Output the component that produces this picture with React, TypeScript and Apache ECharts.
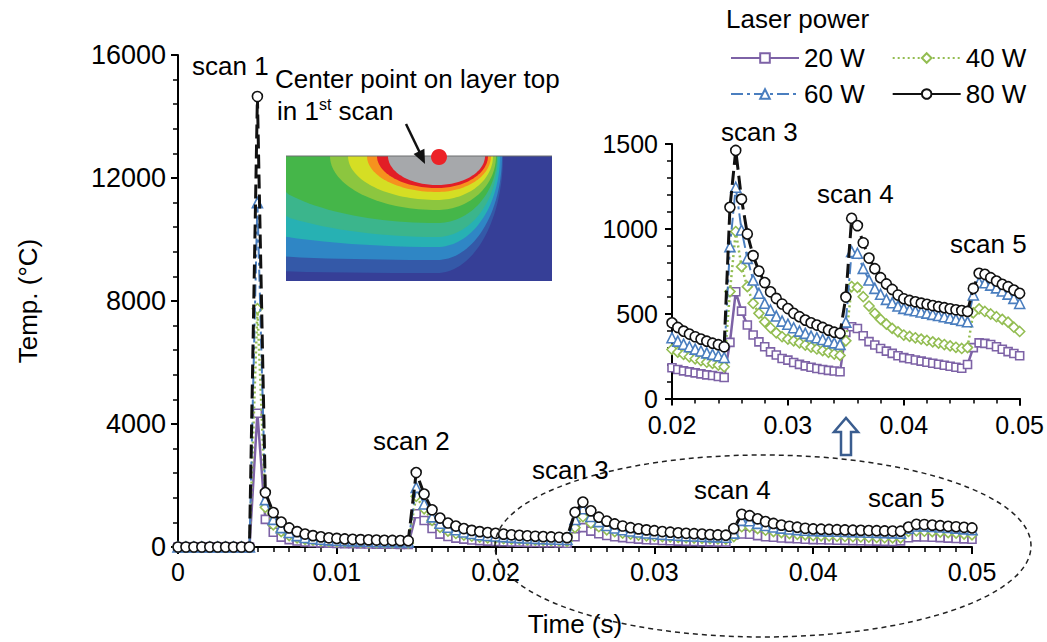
import React, { useEffect, useRef } from 'react';
import * as echarts from 'echarts';

// ---------------- DATA ----------------
const TIME_STEP = 0.0005; // s, sampling interval of the simulation output
const N_POINTS = 101; // 0 .. 0.05 s
const times: number[] = Array.from({ length: N_POINTS }, (_, i) => Number((i * TIME_STEP).toFixed(4)));

const power20W: number[] = [
  0, 0, 0, 0, 0, 0, 0, 0, 0, 0,
  4350,
  900, 480, 320, 240, 195, 165, 148, 135, 125, 117, 110, 105, 101, 97, 94, 91, 89, 86, 84,
  1080, 860, 600, 420, 340, 290, 255, 228, 208, 192,
  181, 171, 163, 157, 151, 145, 139, 136, 130, 124,
  331, 629, 515, 433, 374, 334, 305, 275, 256, 236,
  226, 212, 201, 192, 184, 177, 171, 166, 162, 158,
  390, 423, 413, 370, 335, 315, 295, 279, 266, 252,
  241, 234, 227, 220, 214, 208, 202, 196, 190, 184, 178,
  200,
  300, 328, 325, 318, 305, 290, 276, 265, 252,
];

const power40W: number[] = [
  0, 0, 0, 0, 0, 0, 0, 0, 0, 0,
  7750,
  1290, 720, 500, 370, 295, 250, 222, 200, 185, 175, 166, 159, 153, 148, 144, 140, 136, 133, 130,
  1650, 1240, 870, 640, 520, 440, 390, 350, 320, 300,
  289, 273, 260, 246, 234, 224, 214, 207, 197, 187,
  630, 984, 777, 659, 561, 502, 452, 417, 387, 364,
  350, 340, 328, 315, 303, 292, 282, 272, 262, 254,
  340, 660, 655, 600, 545, 502, 466, 438, 413, 393,
  374, 366, 358, 350, 342, 334, 326, 318, 310, 302, 295,
  300,
  505, 528, 513, 498, 482, 466, 450, 420, 395,
];

const power60W: number[] = [
  0, 0, 0, 0, 0, 0, 0, 0, 0, 0,
  11200,
  1540, 900, 630, 470, 370, 310, 275, 250, 232, 218, 207, 198, 191, 185, 180, 175, 170, 166, 163,
  1940, 1400, 980, 770, 640, 560, 490, 440, 400, 375,
  358, 338, 320, 305, 291, 280, 269, 260, 252, 242,
  895, 1245, 993, 826, 698, 620, 561, 521, 486, 456,
  438, 417, 397, 384, 368, 358, 348, 338, 328, 319,
  450, 866, 856, 767, 698, 649, 614, 584, 564, 545,
  531, 524, 517, 510, 503, 496, 489, 482, 475, 468, 460,
  452,
  610, 685, 682, 668, 652, 634, 615, 590, 560,
];

const power80W: number[] = [
  0, 0, 0, 0, 0, 0, 0, 0, 0, 0,
  14650,
  1770, 1120, 810, 620, 500, 420, 370, 330, 300, 280, 262, 250, 240, 232, 225, 219, 213, 208, 204,
  2420, 1720, 1210, 940, 780, 680, 600, 540, 500, 470,
  446, 419, 397, 380, 364, 350, 338, 326, 317, 305,
  1127, 1462, 1175, 970, 842, 751, 683, 629, 590, 557,
  530, 502, 482, 462, 446, 433, 419, 403, 391, 384,
  598, 1062, 1019, 918, 828, 765, 712, 675, 643, 610,
  588, 578, 570, 562, 555, 548, 541, 535, 529, 523, 518,
  513,
  649, 738, 732, 712, 692, 673, 659, 639, 620,
];

const seriesNames = ['20 W', '40 W', '60 W', '80 W'];
const seriesValues = [power20W, power40W, power60W, power80W];

const mainXTicks = [0, 0.01, 0.02, 0.03, 0.04, 0.05];
const mainYTicks = [0, 4000, 8000, 12000, 16000];
const insetXTicks = [0.02, 0.03, 0.04, 0.05];
const insetYTicks = [0, 500, 1000, 1500];

const scanLabels = ['scan 1', 'scan 2', 'scan 3', 'scan 4', 'scan 5'];

// ---------------- STYLE ----------------
const FONT = '"Liberation Sans", Arial, sans-serif';
const seriesStyle: Record<string, any> = {
  '20 W': { color: '#7d62a6', symbol: 'rect', size: 8, type: 'solid', width: 2.5 },
  '40 W': { color: '#93bd52', symbol: 'diamond', size: 10, type: [2, 3], width: 2.5 },
  '60 W': { color: '#4a7ebf', symbol: 'triangle', size: 10, type: [12, 4, 3, 4], width: 2 },
  '80 W': { color: '#111111', symbol: 'circle', size: 10, type: [14, 6], width: 3 },
};

function makeSeries(idx: number, grid: number) {
  const name = seriesNames[idx];
  const st = seriesStyle[name];
  const vals = seriesValues[idx];
  const minT = grid === 0 ? 0 : insetXTicks[0];
  const data = times
    .map((t, i) => [t, vals[i]])
    .filter((d) => d[0] >= minT - 1e-9);
  return {
    type: 'line',
    name,
    xAxisIndex: grid,
    yAxisIndex: grid,
    data,
    symbol: st.symbol,
    symbolSize: st.size,
    showAllSymbol: true,
    silent: true,
    z: 2 + idx,
    lineStyle: { color: st.color, width: st.width, type: st.type },
    itemStyle: { color: '#ffffff', borderColor: st.color, borderWidth: 1.6 },
  };
}

const fmtX = (v: number) => (v === 0 ? '0' : String(Number(v.toFixed(4))));
const fmtY = (v: number) => String(Math.round(v));

function axisCommon(margin: number, split: number, formatter: any, fontSize = 25) {
  return {
    axisLine: { show: true, onZero: false, lineStyle: { color: '#000', width: 2 } },
    axisTick: { show: true, length: 7, lineStyle: { color: '#000', width: 2 } },
    minorTick: { show: true, splitNumber: split, length: 5, lineStyle: { color: '#000', width: 1.5 } },
    splitLine: { show: false },
    minorSplitLine: { show: false },
    axisLabel: { color: '#000', fontSize, fontFamily: FONT, margin, formatter },
  };
}

// heat-map picture bands
const HM = { L: 286, R: 552, T: 156, B: 281, cx: 437 };
function bandPoints(rxL: number, rxR: number, ry: number) {
  const pts: number[][] = [];
  for (let k = 0; k <= 72; k++) {
    const th = (Math.PI * k) / 72;
    const c = Math.cos(th);
    const s = Math.sin(th);
    let x = HM.cx + (c >= 0 ? rxR : rxL) * c;
    let y = HM.T + ry * s;
    x = Math.max(HM.L, Math.min(HM.R, x));
    y = Math.min(HM.B, y);
    pts.push([x, y]);
  }
  return pts;
}
const bands = [
  { c: '#3459a8', rxL: 1000, rxR: 66, ry: 117 },
  { c: '#2f86c5', rxL: 632, rxR: 65, ry: 104 },
  { c: '#27b1b3', rxL: 331, rxR: 63, ry: 91 },
  { c: '#3bb58c', rxL: 229, rxR: 61, ry: 81 },
  { c: '#45b649', rxL: 181, rxR: 60, ry: 67 },
  { c: '#8cc63f', rxL: 107, rxR: 59, ry: 54 },
  { c: '#d5de24', rxL: 89, rxR: 56, ry: 44 },
  { c: '#f6921e', rxL: 70, rxR: 54, ry: 36 },
  { c: '#e21e26', rxL: 60, rxR: 51, ry: 32 },
  { c: '#a6a8ab', rxL: 49, rxR: 48, ry: 29 },
];

function txt(text: string, x: number, y: number, size = 26, extra: any = {}) {
  return {
    type: 'text',
    x,
    y,
    silent: true,
    z: 20,
    style: {
      text,
      fill: '#000',
      fontSize: size,
      fontFamily: FONT,
      textAlign: 'left',
      textVerticalAlign: 'middle',
      ...extra,
    },
  };
}

export default function App() {
  const ref = useRef<HTMLDivElement>(null);

  useEffect(() => {
    document.body.style.margin = '0';
    if (!ref.current) return;
    const chart = echarts.init(ref.current, undefined, { renderer: 'svg' });

    const legendCommon = {
      left: 725,
      orient: 'horizontal',
      itemWidth: 68,
      itemHeight: 12,
      itemGap: 27,
      selectedMode: false,
      textStyle: { color: '#000', fontSize: 26, fontFamily: FONT },
    };

    const graphic: any[] = [];
    // heat-map picture
    graphic.push({
      type: 'rect',
      silent: true,
      z: 10,
      shape: { x: HM.L, y: HM.T, width: HM.R - HM.L, height: HM.B - HM.T },
      style: { fill: '#363f97' },
    });
    bands.forEach((b) =>
      graphic.push({
        type: 'polygon',
        silent: true,
        z: 10,
        shape: { points: bandPoints(b.rxL, b.rxR, b.ry) },
        style: { fill: b.c },
      })
    );
    graphic.push({
      type: 'line',
      silent: true,
      z: 11,
      shape: { x1: HM.L, y1: HM.T, x2: HM.R, y2: HM.T },
      style: { stroke: '#6d6e71', lineWidth: 1 },
    });
    graphic.push({
      type: 'circle',
      silent: true,
      z: 12,
      shape: { cx: 439, cy: 157, r: 8 },
      style: { fill: '#ec2227' },
    });
    // arrow to the point
    graphic.push({
      type: 'line',
      silent: true,
      z: 12,
      shape: { x1: 406, y1: 124, x2: 420, y2: 153 },
      style: { stroke: '#111', lineWidth: 2.5 },
    });
    graphic.push({
      type: 'polygon',
      silent: true,
      z: 12,
      shape: { points: [[425, 164], [413.6, 154], [424.4, 148.8]] },
      style: { fill: '#111' },
    });
    // texts
    graphic.push(txt('Center point on layer top', 275, 79));
    graphic.push({
      type: 'text',
      x: 277,
      y: 110,
      silent: true,
      z: 20,
      style: {
        text: '{a|in 1}{b|st}{a| scan}',
        fill: '#000',
        fontFamily: FONT,
        fontSize: 26,
        textAlign: 'left',
        textVerticalAlign: 'middle',
        rich: {
          a: { fontSize: 26, fontFamily: FONT, fill: '#000', verticalAlign: 'bottom', lineHeight: 28 },
          b: { fontSize: 16, fontFamily: FONT, fill: '#000', verticalAlign: 'top', lineHeight: 28 },
        },
      },
    });
    graphic.push(txt(scanLabels[0], 192, 66));
    graphic.push(txt(scanLabels[1], 373, 441));
    graphic.push(txt(scanLabels[2], 532, 470));
    graphic.push(txt(scanLabels[3], 694, 490));
    graphic.push(txt(scanLabels[4], 868, 498));
    graphic.push(txt(scanLabels[2], 721, 132));
    graphic.push(txt(scanLabels[3], 817, 194));
    graphic.push(txt(scanLabels[4], 950, 244));
    graphic.push(txt('Laser power', 726, 19));
    // dashed ellipse
    graphic.push({
      type: 'ellipse',
      silent: true,
      z: 9,
      shape: { cx: 763, cy: 546, rx: 268, ry: 91 },
      style: { fill: 'none', stroke: '#222', lineWidth: 1.5, lineDash: [5, 4] },
    });
    // hollow up arrow
    graphic.push({
      type: 'polygon',
      silent: true,
      z: 12,
      shape: {
        points: [
          [841, 455], [841, 432], [834, 432], [846, 418], [858, 432], [851, 432], [851, 455],
        ],
      },
      style: { fill: '#fff', stroke: '#3a5d8f', lineWidth: 2.5 },
    });

    const option: any = {
      animation: false,
      backgroundColor: '#fff',
      textStyle: { fontFamily: FONT },
      grid: [
        { left: 178, top: 55, width: 794, height: 495 },
        { left: 672, top: 144, width: 350, height: 254.5 },
      ],
      xAxis: [
        {
          type: 'value',
          gridIndex: 0,
          min: mainXTicks[0],
          max: mainXTicks[mainXTicks.length - 1],
          interval: mainXTicks[1] - mainXTicks[0],
          name: 'Time (s)',
          nameLocation: 'middle',
          nameGap: 64,
          nameTextStyle: { color: '#000', fontSize: 26, fontFamily: FONT },
          ...axisCommon(12, 10, fmtX),
        },
        {
          type: 'value',
          gridIndex: 1,
          min: insetXTicks[0],
          max: insetXTicks[insetXTicks.length - 1],
          interval: insetXTicks[1] - insetXTicks[0],
          ...axisCommon(14, 5, fmtX),
        },
      ],
      yAxis: [
        {
          type: 'value',
          gridIndex: 0,
          min: mainYTicks[0],
          max: mainYTicks[mainYTicks.length - 1],
          interval: mainYTicks[1] - mainYTicks[0],
          name: 'Temp. (°C)',
          nameLocation: 'middle',
          nameGap: 137,
          nameRotate: 90,
          nameTextStyle: { color: '#000', fontSize: 26, fontFamily: FONT },
          ...axisCommon(12, 5, fmtY, 27),
        },
        {
          type: 'value',
          gridIndex: 1,
          min: insetYTicks[0],
          max: insetYTicks[insetYTicks.length - 1],
          interval: insetYTicks[1] - insetYTicks[0],
          ...axisCommon(14, 5, fmtY),
        },
      ],
      legend: [
        { ...legendCommon, top: 40, data: [{ name: '20 W' }, { name: '40 W' }] },
        {
          ...legendCommon,
          top: 76,
          data: [{ name: '60 W' }, { name: '80 W', lineStyle: { type: 'solid' } }],
        },
      ],
      series: [0, 1, 2, 3].map((i) => makeSeries(i, 0)).concat([0, 1, 2, 3].map((i) => makeSeries(i, 1))),
      graphic,
    };
    chart.setOption(option);
    return () => chart.dispose();
  }, []);

  return <div ref={ref} style={{ width: 1047, height: 642 }} />;
}
